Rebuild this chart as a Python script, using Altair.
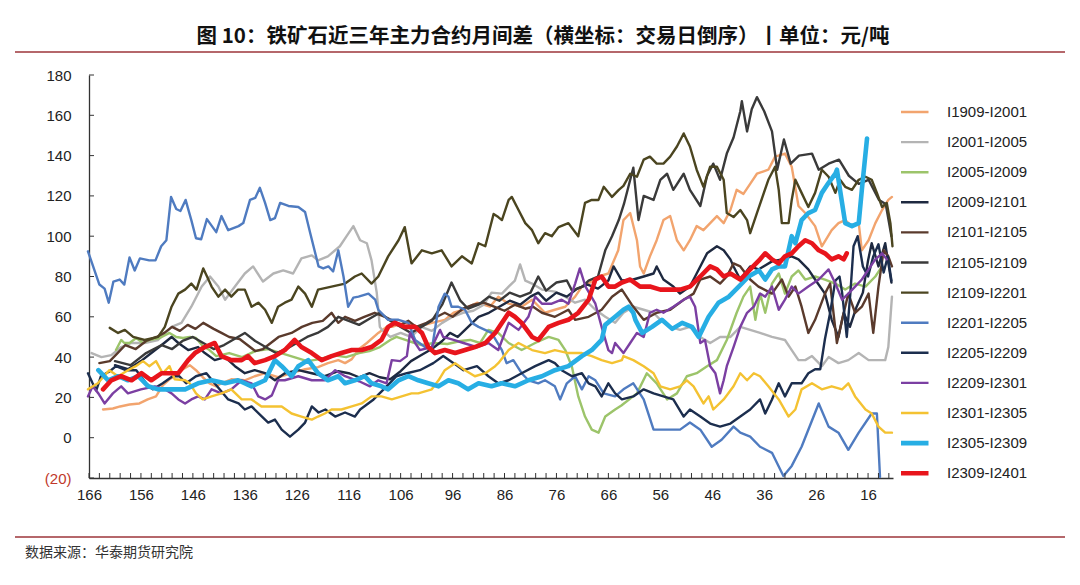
import altair as alt
import pandas as pd

# ---- series: (trading day counted backwards, spread in yuan/ton) ----
I1909_I2001 = [(163.3,14),(161.4,14.5),(160,15.5),(158.2,16.5),(156.3,17),(154.7,19),(153.1,20.5),(151.8,26),(150.5,29),(149.2,31),(147.9,34),(146.6,36),(145.4,33.5),(144.1,30),(142.8,27),(141.5,25.5),(140.5,27),(138.6,29),(136,28.5),(134.1,30.5),(132.1,32),(129.6,30),(127,32),(124.4,34),(121.9,35),(120,37),(118,38.5),(116.7,37),(115.4,39),(114,44),(112.5,47),(110.3,52),(108.7,55),(107.7,55),(105.2,57),(102.6,55),(100,57),(97.5,58.5),(95.8,62),(93.9,63.5),(91.3,67),(88.8,65),(87.2,70),(85.2,66.5),(82.7,65),(80.7,68.5),(78.2,62),(76.3,63.5),(74.3,65),(72.4,70),(71.1,75),(69.8,76.5),(67.9,80),(66,81.5),(64.1,93),(63.1,108),(61.8,111.5),(60.5,98),(59.9,85),(59.2,81.5),(58,90),(56.7,98),(55.4,108),(54.1,110),(52.8,98),(51.5,93),(50.3,98),(49,105),(47.7,103),(46.4,106.5),(45.1,110),(43.8,106.5),(42.5,113),(41.3,123),(40,121),(38.7,126),(37.4,131),(35.2,133),(33.9,139.5),(32,141),(30.7,134.5),(29.4,115),(28.1,111.5),(26.2,105),(24.9,95),(23,103),(21.7,106.5),(20.4,108),(19.1,105),(17.8,106.5),(17.2,93),(15.9,98),(14.6,106.5),(13.3,113),(12.1,118),(11.4,119.5)]

I2001_I2005 = [(165.5,42),(163.6,40),(161.7,41),(159.8,45),(157.8,47),(155.3,47),(152.7,48.5),(150.1,55),(148.2,57),(146.3,65),(144.3,75),(142.7,80),(141.1,75),(139.8,68.5),(137.9,75),(136,81.5),(134.4,85),(132.5,77.5),(130.5,81.5),(128.6,83),(126.7,81.5),(125.1,89),(123.1,90.5),(121.9,88),(120,90),(117.7,95),(116.4,100),(115.1,105),(113.8,98),(112.5,96.5),(111.6,88),(110.6,72),(110,55),(109.6,53.5),(108,50),(106,52),(104,50),(102,55),(100,53),(98,57),(96,60),(94,62),(92,63),(90,66),(88.5,72),(86.5,71.5),(85.2,75),(84,78),(83,86),(82,78),(80.7,76.5),(78.8,73.5),(76.3,72.5),(74.3,70),(72.4,67),(70.5,68.5),(68.5,63.5),(66.6,60),(64.7,57),(63.1,62),(61.2,65),(59.2,63.5),(57.3,62),(56,58.5),(54.1,55),(52.2,53.5),(50.3,55),(48.3,50),(46.4,47),(44.5,50),(42.5,50),(40.6,55),(38.7,53.5),(36.8,52),(34.5,50),(32,48.5),(30.7,43.5),(29.4,38.5),(28.1,38.5),(26.8,40.5),(24.9,35.5),(23.6,40),(21.7,37),(19.8,38.5),(17.8,42),(15.9,38.5),(14,38.5),(12.7,38.5),(12.1,45),(11.4,70)]

I2005_I2009 = [(160.8,43.5),(159.8,48.5),(159.2,47),(158.2,47),(156.9,49.5),(155.6,47),(154.4,48.5),(152.4,49.5),(150.5,52),(149.2,50),(147.9,49.5),(146.6,50),(145.4,49.5),(144.1,45.5),(142.8,43.5),(141.5,40.5),(139,42),(136.5,40),(134,43),(131.5,44),(129,42),(126.5,40),(124,38),(121.5,39),(119,41),(116.5,40),(114,42),(112,43),(110,45),(108,48.5),(106.8,50),(104.5,48),(102,46),(99.5,47),(97,46.5),(94.5,48),(92.6,48.5),(90.7,47),(89.1,53.5),(87.2,52),(85.2,47),(82.7,43.5),(80.1,47),(77.5,50),(75.6,48.5),(74.3,43.5),(73,35),(71.8,20.5),(70.5,10.5),(69.2,4),(67.9,2.5),(66.6,10.5),(64.7,14),(63.5,16),(60.5,22),(58.6,32),(56.7,27),(54.7,19),(52.8,22),(50.9,30.5),(49,32),(47,35.5),(45.1,38.5),(43.2,48.5),(41.3,62),(40,70),(38.7,75),(37.7,58.5),(36.8,71.5),(35.8,62),(34.5,76.5),(33.2,81.5),(32,71.5),(30.7,80),(29.4,83),(28.1,78.5),(26.2,80),(24.3,78.5),(22.3,76.5),(20.4,73.5),(18.5,76.5),(16.5,75),(14.6,80),(13.3,85)]

I2009_I2101 = [(161,36),(158.5,34),(156,38),(154,42),(152,46),(150.1,50),(148.8,47),(146.9,43.5),(145,45),(143.7,42),(141.8,38.5),(139.8,40),(137.9,35.5),(136,32),(134.1,33.5),(132.1,32),(130.2,28.5),(128.3,32),(125.7,33.5),(123.1,32),(120.6,30.5),(118,33),(116,32),(114,30),(112,32),(110,30),(108,29),(106,33),(104,38),(102,41),(100,44),(98,48),(96.5,52),(95,50),(93,55),(91,60),(89,62),(87,65),(85,68),(83,66),(81,70),(79.5,72),(78,68),(76,72),(74,70),(72,74),(70,76),(68,74),(66,78),(65,85),(63.4,78),(61.2,78.5),(59.2,80),(57.3,81.5),(56.7,85),(55.4,78.5),(53.5,75),(52.2,71.5),(50.3,75),(49,81.5),(47,91.5),(45.1,95),(43.8,93),(42.5,88.5),(41.9,85),(40.6,78.5),(38.7,85),(37.1,83.5),(34.5,87.5),(32.6,88.5),(30.7,90),(29.4,88.5),(27.5,83.5),(26.2,78.5),(24.3,71.5),(23,58.5),(21.7,50),(20.7,62),(19.5,55),(18.2,65),(17,72),(16,88),(15.3,96.5),(14,85),(12.7,96.5),(11.5,77)]

I2101_I2105 = [(164,37),(162,38),(160.5,42),(159,46),(157,44),(155,48),(153,50),(151.5,52),(150,55),(148.5,53),(147,56),(145.5,54),(144,57),(142,54),(140.5,52),(139,50),(137,49),(135.5,46),(134,43),(132.5,44),(131,47),(129.5,50),(127,52),(125,55),(123,57),(121,58),(119.3,62),(118,57),(116.7,60),(114.8,58),(113,60),(111,62),(109,60),(107.5,58),(106,56),(104.5,58),(103,55),(101,57),(99,60),(97.5,62),(96,60),(94,64),(92,66),(90,67),(88,65),(86,63),(84,66),(82,64),(80.5,65),(78.8,62),(76.3,60),(73.7,63.5),(72.4,58.5),(69.8,60),(67.3,63.5),(65.3,70),(63.4,73.5),(61.5,66),(59.2,58.5),(56.7,62),(54.1,63.5),(51.5,68.5),(49.6,71.5),(48.3,78.5),(46.4,80),(44.5,76.5),(43.2,80),(41.9,86.5),(40.6,85),(38.7,78.5),(37.1,75),(34.5,71.5),(32.6,78.5),(31.3,70),(30,75),(28.8,65),(27.5,52),(26.2,58.5),(24.3,71.5),(23.3,76.5),(22,47),(21,58.5),(19.8,71.5),(18.5,62),(17.2,65),(15.9,71.5),(15,52),(14,75),(13,93),(12.1,90),(11.4,85)]

I2105_I2109 = [(161,38),(158,36),(155,42),(152,46),(150,44),(148,48),(146,50),(144,47),(142,44),(140,46),(138,49),(136,52),(134,48),(132,45),(130,42),(128,44),(126,47),(124,50),(122,52),(120,55),(118,60),(116,58),(114,56),(112,59),(110,62),(108,58),(106,55),(104,52),(102,55),(100,58),(98,66),(96.2,77),(94.5,68),(93,64),(91,66),(89,70),(87,68),(85,72),(83,70),(81,72),(79.5,80),(78,73),(76,77),(74,78),(73,73),(71,75),(69.8,78),(68,80),(66.6,93),(65.3,100),(64,108),(63,116),(61.2,134),(60.2,108),(59.2,120),(57.3,118),(56,128),(54.7,131),(53.5,123),(51.5,131),(50.3,123),(48.3,115),(47,130),(45.8,136),(44.5,128),(43.2,141),(41.9,149),(40.6,162),(40.3,167),(39.3,152),(38.4,163),(37.4,169),(36,162),(34.5,152),(33.5,133),(32.2,148),(30.9,136),(29.3,140),(26.8,141),(25.5,133),(23.6,136),(21.6,138),(19.7,130),(17.8,126),(15.9,128),(13.9,118),(12.6,116),(11.5,100)]

I2109_I2201 = [(162,54.5),(160.4,52),(159.1,53.5),(157.5,50),(155.3,48.5),(152.7,50),(151.4,55),(150.1,65),(148.8,71.5),(147.5,73.5),(146.3,76.5),(145.3,73.5),(144,84),(143,78.5),(142.4,75),(141.1,70),(139.8,73.5),(138.6,70),(137.3,73.5),(136,73.5),(134.7,65),(133.4,67),(132.1,63.5),(130.8,57),(129.6,65),(128.3,67),(127,68.5),(125.7,75),(124.4,71.5),(123.1,65),(121.9,73.5),(119.3,75),(116.7,76.5),(114.8,80),(113.5,81.5),(111.6,76.5),(110.3,80),(108.4,90),(106.4,98),(105.2,104.5),(103.9,86.5),(101.9,93),(100,91.5),(98.1,93),(96.2,85),(94.2,90),(92.3,86.5),(91,96.5),(89.7,95),(88.1,111),(87.2,109.5),(86.5,108),(85.2,118),(84.6,119.5),(83.3,113),(82,106.5),(80.7,103),(79.5,96.5),(78.2,101.5),(76.9,100),(75.6,104.5),(73.7,106.5),(71.8,100),(70.5,116.5),(69.2,118),(67.9,118),(66.9,124.5),(65.3,119.5),(64,123),(63.1,125),(61.8,131),(60.5,129.5),(59.2,138),(58,139.5),(56.7,136),(55.4,136),(54.1,139.5),(52.8,144.5),(51.5,151),(50.3,144.5),(49,133),(47.7,124.5),(46.4,134.5),(45.1,134.5),(43.8,128),(43.2,111.5),(41.9,109.5),(40.6,113),(39.3,108),(38.7,101.5),(37.4,111.5),(35.2,128),(33.9,134.5),(33.2,123),(32.6,106.5),(31.3,106.5),(30.7,118),(30,128),(28.8,121.5),(27.5,114.5),(26.2,121.5),(24.9,133),(23.6,129.5),(22.3,121.5),(21.4,128),(20.4,124.5),(19.1,123),(17.8,128),(16.5,129.5),(15.3,128),(14.3,121.5),(13.3,114.5),(12.4,116.5),(11.7,106.5),(11.3,95)]

I2201_I2205 = [(166.2,92.5),(164,76),(163,74),(162.2,67),(161.3,77.5),(160.1,78.5),(159.2,76),(158.2,89.5),(157.2,83),(156.2,89),(154.4,88),(153.2,88),(152.1,95),(151.1,98),(150.2,119.5),(149.2,113.5),(148.4,112.5),(147.4,118),(146.3,108),(145.4,99),(144.4,98.5),(143.3,108.5),(141.5,102),(140.5,110),(139.2,103),(137.2,105),(136.3,106.5),(135,118),(134,119),(133.1,124),(132.1,116.5),(131.1,108),(130.2,109),(129.2,116.5),(127.6,115),(125.7,114.5),(124.4,112),(123.4,101.5),(121.8,85),(120.9,84),(119.9,85),(119,82.5),(118,93),(117,80),(116.1,65),(115.1,69.5),(114.1,70),(112.2,71.5),(110.9,68.5),(110.3,63.5),(108.4,58.5),(106.4,58.5),(104.5,57),(103.2,48.5),(101.3,45),(100,43.5),(98.7,65),(97.5,71.5),(96.8,70),(96.2,65),(94.9,65),(93.6,63.5),(92.3,57),(91,55),(88.5,52),(86.5,43.5),(85.6,37),(84.3,38.5),(82.7,32),(81.4,28.5),(79.5,27),(78.2,28.5),(76.3,25.5),(75.3,19),(74,27),(72.4,30.5),(71.1,24),(69.8,30.5),(68.5,28.5),(66.9,22),(64.7,20.5),(63.1,24),(61.2,27),(59.2,19),(57.3,4),(54.7,4),(52.2,4),(50.3,7.5),(48.3,4),(46.1,-4.5),(44.2,-1),(41.9,5.5),(40.6,2.5),(38.7,0.5),(36.8,-4.5),(34.5,-7.5),(32.3,-19),(30.7,-14),(28.8,-4.5),(25.5,17),(23.6,5.5),(21.7,2.5),(19.8,-6),(17.8,2.5),(15.3,12),(14.3,12),(13.7,-19.5)]

I2205_I2209 = [(166.2,32),(165.3,27),(164.6,23.5),(163.7,30.5),(162,33),(160.8,35.5),(158.9,33.5),(156.9,33.5),(155,27),(153.7,24),(151.8,27),(149.9,30.5),(148.6,30.5),(147.3,27),(145.4,30.5),(143.4,32),(141.5,26),(139.2,19),(137.2,17),(136,14),(134.7,15.5),(132.7,10.5),(131.5,7.5),(130.2,9),(128.9,4),(127.3,0.5),(125.7,4),(124.4,7.5),(123.1,15.5),(121.8,12.5),(120.5,14),(118.6,10.5),(116.7,12.5),(114.8,10.5),(113.8,14),(111.2,19),(108.7,25.5),(106.8,30.5),(104.8,32),(102.3,33.5),(99.7,37),(97.8,40.5),(95.8,37),(93.9,33.5),(91.3,35.5),(89.1,30.5),(87.2,27),(85.2,28.5),(82.7,32),(80.1,35.5),(77.5,38.5),(76.3,37),(75,33.5),(73,30.5),(71.1,32),(69.8,27),(68.5,25.5),(67.3,20.5),(66,27),(64.7,22),(63.4,19),(61.2,20.5),(59.2,24),(57.3,22),(55.4,20.5),(53.5,19),(51.5,10.5),(50.3,14),(48.3,10.5),(46.4,7),(44.5,5.5),(42.5,7),(40.6,10.5),(38.7,14),(36.8,19),(35.8,12),(34.5,19),(33.2,27),(32,20.5),(30.7,27),(28.8,27),(27.5,32),(26.2,34),(25.2,34),(24.3,49),(23.3,62),(22.3,78),(21.5,80),(21,72),(20.1,50),(19.4,72),(18.8,95),(18,100),(17,85),(16,80),(15,90),(14,96),(13,82),(12.2,90),(11.5,78)]

I2209_I2301 = [(166.2,20.5),(165.3,25.5),(164.2,22),(163,17),(161.4,22),(160.5,24),(159.8,25.5),(158.5,22),(156,24),(153.3,25.5),(151.4,24),(150.1,22),(148.8,19),(147.5,17),(146.3,19),(145,20.5),(143.7,19),(142.4,24),(140.5,22),(138.6,24),(136.6,28.5),(134.7,27),(133.4,20.5),(132.1,19),(130.8,21),(129.6,28.5),(128.3,28.5),(125.7,30.5),(123.1,28.5),(120.6,28.5),(118.6,33.5),(116.7,30.5),(114,28),(111.9,25.5),(110.3,28.5),(108.7,27),(107.7,38.5),(106.1,38),(104.8,40.5),(104.2,52),(103.2,47),(102.3,43.5),(100,45),(98.4,53.5),(97.8,50),(95.8,48.5),(93.9,47),(91.3,45),(89.1,47),(87.2,43.5),(85.2,57),(83.3,53.5),(81.4,60),(80.1,70),(78.8,66.5),(76.9,66.5),(75,68.5),(73.7,66.5),(72.4,76.5),(71.5,84),(70.4,75),(68.5,66.5),(67.3,55),(66,43.5),(65.3,42),(64.7,47),(63.1,42),(61.8,47),(60.5,52),(59.2,50),(58,62),(56.7,63.5),(55.4,62),(53.5,65),(51.5,68.5),(50.3,70),(49.3,65),(48.3,47),(47.4,48.5),(46.4,35.5),(45.4,32),(44.5,22),(43.8,28.5),(43.2,35.5),(41.9,45),(40.6,55),(39.3,62),(38,65),(36.8,71.5),(35.8,70),(34.5,75),(33.2,63.5),(32,68.5),(30.7,75),(29.4,71.5),(27.5,75),(25.5,78.5),(23.6,83.5),(22.3,76.5),(21,68.5),(19.8,71.5),(18.5,75),(17.2,78.5),(15.9,83.5),(14.6,88.5),(13.3,91.5),(12.4,88.5)]

I2301_I2305 = [(166.2,24),(164.3,27),(162.1,33.5),(160.4,30.5),(158.5,33.5),(157,35.5),(155.6,38),(154.4,35.5),(153.1,38),(151.8,32),(150.5,35.5),(149.5,29),(147.5,28.5),(146.6,27),(145.4,22),(144.1,19),(142.4,20.5),(140.5,22),(138.6,24),(136.6,19),(134.7,19),(132.8,15.5),(130.8,15.5),(128.9,15.5),(127,12),(125.1,10.5),(123.1,9),(121.9,10.5),(120.6,12),(119.3,14),(117.4,14),(115.4,15.5),(113.5,17),(111.6,20.5),(109.7,20.5),(107.7,19),(105.8,20.5),(103.9,22),(102.6,22),(100,24),(98.7,28.5),(97.5,33.5),(95.5,37),(93.6,33.5),(91.7,30.5),(89.7,32),(87.8,35.5),(87.2,37),(85.2,43.5),(83.3,47),(80.7,43.5),(78.2,42),(76.3,43.5),(73.7,42),(71.1,42),(69.2,40.5),(67.3,38.5),(65.3,37),(63.4,38.5),(63.1,40.5),(61.2,38.5),(59.2,35.5),(57.3,32),(56,25.5),(54.1,24),(52.2,25.5),(50.9,28.5),(49.6,25.5),(47.7,17),(46.7,20.5),(45.8,14),(43.8,19),(41.9,25.5),(40.6,32),(39.3,28.5),(38,32),(36.8,30.5),(35.2,25.5),(33.2,19),(31.3,10.5),(30,14),(28.8,24),(26.8,27),(24.9,24),(23,25.5),(21,24),(19.8,27),(18.5,20.5),(16.5,14),(15.3,12),(14,5.5),(12.7,2.5),(11.4,2.5)]

I2305_I2309 = [(164.2,33.5),(162.3,28.5),(160.4,30.5),(158.5,28.5),(156.5,30.5),(154.6,25.5),(152.7,24),(150.1,24),(147.5,24),(145,27),(142.4,28.5),(139.8,27),(137.3,28.5),(134.7,25.5),(132.1,28.5),(130.2,38.5),(128.9,35.5),(127,30.5),(125.7,35.5),(123.8,38.5),(121.9,32),(120,28.5),(118,30.5),(116.7,27),(114.8,28.5),(112.9,30.5),(111.6,27),(109.7,25.5),(108.4,24),(106.4,28.5),(104.5,30.5),(102.6,28.5),(100.7,27),(98.7,25.5),(96.8,28.5),(94.9,27),(93,24),(91,27),(88.5,25.5),(86.5,27),(84,25.5),(81.4,28.5),(78.8,30.5),(76.3,33.5),(73.7,35.5),(71.1,40.5),(69.2,43.5),(67.3,48.5),(66.6,56),(64.7,60),(63.1,63.5),(62.1,65),(61.2,62),(60.8,58.5),(59.5,52),(57.6,55),(55.7,58.5),(53.7,54),(51.8,57),(49.9,55),(48.6,50),(46.7,60),(44.8,67),(42.8,70),(40.9,75),(39,80),(37,83),(35.8,78.5),(34.5,83.5),(33.2,85),(32,85),(30.7,100),(30,96.5),(28.8,108),(27.5,111.5),(26.2,113),(24.9,121.5),(23.6,126.5),(22.3,131),(22,133),(21.4,123),(20.4,106.5),(19.1,105),(17.8,106.5),(17.2,123),(16.2,148.5)]

I2309_I2401 = [(163.3,24),(161.7,28.5),(159.8,30.5),(157.8,28.5),(155.9,32),(154,28.5),(152,32),(150.1,32),(148.8,32),(146.9,38.5),(145.6,42),(143.7,45),(141.8,47),(140.5,40.5),(138.6,38.5),(136.6,38.5),(135.4,40.5),(134.1,37),(132.1,38.5),(130.2,40.5),(128.3,43.5),(126.4,48.5),(125.1,45),(123.1,42),(121.2,38.5),(119.3,40.5),(117.4,42),(115.4,43.5),(113.5,43.5),(111.6,45),(109.7,48.5),(108.4,55),(107.1,57),(105.2,55),(103.2,55),(101.9,52),(100.7,45),(99.4,42),(97.5,43.5),(95.5,42),(93.6,43.5),(91.7,45),(89.7,47),(87.8,52),(85.2,62),(84,60),(82.7,57),(80.7,50),(79.5,48.5),(77.5,55),(75.6,57),(73.7,58.5),(71.8,62),(69.8,68.5),(68.5,78.5),(67.3,80),(66,75),(64.7,75),(63.4,77),(61.8,78.5),(59.9,75),(58,75),(56,73.5),(54.1,73.5),(52.2,73.5),(50.3,75),(48.3,80),(46.4,85),(45.1,83.5),(43.8,80),(42.5,81.5),(40.6,78.5),(38.7,83.5),(36.8,88.5),(35.8,91.5),(34.5,88.5),(33.2,86.5),(32,90),(30.7,91.5),(29.4,95),(28.1,98),(26.8,96.5),(25.5,93),(24.3,91.5),(23,88.5),(21.7,90),(20.7,88.5),(20.1,91.5)]

SERIES_NAMES = ["I1909-I2001", "I2001-I2005", "I2005-I2009", "I2009-I2101", "I2101-I2105",
                "I2105-I2109", "I2109-I2201", "I2201-I2205", "I2205-I2209", "I2209-I2301",
                "I2301-I2305", "I2305-I2309", "I2309-I2401"]
SERIES_POINTS = [I1909_I2001, I2001_I2005, I2005_I2009, I2009_I2101, I2101_I2105,
                 I2105_I2109, I2109_I2201, I2201_I2205, I2205_I2209, I2209_I2301,
                 I2301_I2305, I2305_I2309, I2309_I2401]
SERIES_COLORS = ["#F2A46E", "#B4B4B4", "#9CC46A", "#1E2940", "#5A3A2C",
                 "#3A3A3A", "#4B4520", "#4F7BC0", "#1C2E4E", "#7B3FA2",
                 "#F4C232", "#27AEE4", "#E8151C"]
# the two most recent spreads are drawn with a heavier line
THICK_SERIES = ["I2305-I2309", "I2309-I2401"]
THIN_WIDTH, THICK_WIDTH = 2.4, 4.6

X_LABELS = [166, 156, 146, 136, 126, 116, 106, 96, 86, 76, 66, 56, 46, 36, 26, 16]
X_MINOR = list(range(166, 11, -2))
Y_TICKS = [-20, 0, 20, 40, 60, 80, 100, 120, 140, 160, 180]

TITLE = "图 10：铁矿石近三年主力合约月间差（横坐标：交易日倒序）丨单位：元/吨"
SOURCE = "数据来源：华泰期货研究院"

W, H = 804, 403
AXIS_COLOR = "#333333"
LABEL_FONT = "Liberation Sans"
CJK_FONT = "Noto Sans CJK SC"

rows = []
for name, pts in zip(SERIES_NAMES, SERIES_POINTS):
    for d, v in pts:
        rows.append({"series": name, "day": d, "value": v})
df = pd.DataFrame(rows)
thin_df = df[~df["series"].isin(THICK_SERIES)]
thick_df = df[df["series"].isin(THICK_SERIES)]

x_scale = alt.Scale(domain=[11.2, 166], reverse=True, nice=False, zero=False)
y_scale = alt.Scale(domain=[-20, 180], nice=False, zero=False)
color_scale = alt.Scale(domain=SERIES_NAMES, range=SERIES_COLORS)

thick_test = " || ".join(f"datum.value == '{s}'" for s in THICK_SERIES)
legend = alt.Legend(
    title=None, orient="none", legendX=812, legendY=23,
    symbolType="stroke", symbolSize=1600, clipHeight=28, rowPadding=2.1,
    symbolStrokeWidth={"expr": f"({thick_test}) ? {THICK_WIDTH} : {THIN_WIDTH}"},
    labelFont=LABEL_FONT, labelFontSize=15, labelColor="#222222", labelOffset=31,
    padding=0, symbolOpacity=1,
)

x_enc = alt.X("day:Q", scale=x_scale,
              axis=alt.Axis(values=X_LABELS, title=None, grid=False, ticks=False, tickSize=0,
                            labelPadding=9, labelFont=LABEL_FONT, labelFontSize=15,
                            labelColor="#222222", domainColor=AXIS_COLOR, domainWidth=1.3,
                            labelFlush=False))
y_enc = alt.Y("value:Q", scale=y_scale,
              axis=alt.Axis(values=Y_TICKS, title=None, grid=False, ticks=False, tickSize=0,
                            labelPadding=18, labelFont=LABEL_FONT, labelFontSize=15,
                            labelExpr="datum.value < 0 ? '(' + abs(datum.value) + ')' : datum.label",
                            labelColor=alt.condition("datum.value < 0", alt.value("#C0392B"), alt.value("#222222")),
                            domainColor=AXIS_COLOR, domainWidth=1.3))

thin_lines = alt.Chart(thin_df).mark_line(strokeWidth=THIN_WIDTH, strokeCap="round", strokeJoin="round").encode(
    x=x_enc, y=y_enc,
    color=alt.Color("series:N", scale=color_scale, legend=legend),
)
thick_lines = alt.Chart(thick_df).mark_line(strokeWidth=THICK_WIDTH, strokeCap="round", strokeJoin="round").encode(
    x=alt.X("day:Q", scale=x_scale), y=alt.Y("value:Q", scale=y_scale),
    color=alt.Color("series:N", scale=color_scale, legend=legend),
)

# small inward tick marks along both axes
x_ticks = alt.Chart(pd.DataFrame({"day": X_MINOR})).mark_rule(color=AXIS_COLOR, strokeWidth=1).encode(
    x=alt.X("day:Q", scale=x_scale), y=alt.value(H), y2=alt.value(H - 5))
y_ticks = alt.Chart(pd.DataFrame({"value": Y_TICKS})).mark_rule(color=AXIS_COLOR, strokeWidth=1).encode(
    y=alt.Y("value:Q", scale=y_scale), x=alt.value(0), x2=alt.value(5))

one = pd.DataFrame({"t": [TITLE]})
title = alt.Chart(one).mark_text(font=CJK_FONT, fontSize=20.5, fontWeight="bold", color="#111111",
                                 align="center", baseline="middle").encode(
    text="t:N", x=alt.value(543 - 89), y=alt.value(37 - 75))
source = alt.Chart(pd.DataFrame({"t": [SOURCE]})).mark_text(font=CJK_FONT, fontSize=14, color="#333333",
                                                            align="left", baseline="middle").encode(
    text="t:N", x=alt.value(25 - 89), y=alt.value(553 - 75))
rule_top = alt.Chart(one).mark_rule(color="#B5676B", strokeWidth=2).encode(
    x=alt.value(15 - 89), x2=alt.value(1065 - 89), y=alt.value(52 - 75))
rule_bottom = alt.Chart(one).mark_rule(color="#B5676B", strokeWidth=2).encode(
    x=alt.value(15 - 89), x2=alt.value(1065 - 89), y=alt.value(537 - 75))

chart = alt.layer(thin_lines, thick_lines, x_ticks, y_ticks, title, source, rule_top, rule_bottom).properties(
    width=W, height=H,
    autosize=alt.AutoSizeParams(type="none"),
    padding={"left": 89, "top": 75, "right": 1080 - 89 - W, "bottom": 585 - 75 - H},
    background="white",
).configure_view(stroke=None)

chart.save("out.html", embed_options={"renderer": "svg", "actions": False})
